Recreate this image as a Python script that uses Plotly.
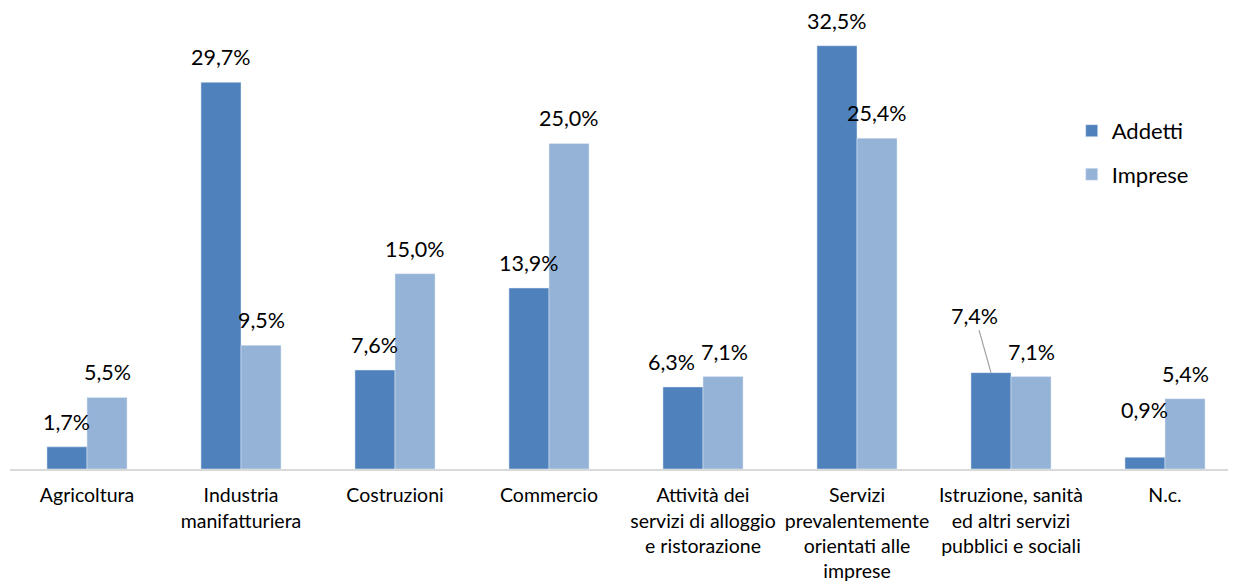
import plotly.graph_objects as go

categories = [
    "Agricoltura",
    "Industria<br>manifatturiera",
    "Costruzioni",
    "Commercio",
    "Attività dei<br>servizi di alloggio<br>e ristorazione",
    "Servizi<br>prevalentemente<br>orientati alle<br>imprese",
    "Istruzione, sanità<br>ed altri servizi<br>pubblici e sociali",
    "N.c.",
]
addetti = [1.7, 29.7, 7.6, 13.9, 6.3, 32.5, 7.4, 0.9]
imprese = [5.5, 9.5, 15.0, 25.0, 7.1, 25.4, 7.1, 5.4]

def fmt(v):
    return f"{v:.1f}".replace(".", ",") + "%"

c_add = "#4F81BD"
c_imp = "#95B3D7"
FONT = "Lato"
bargap = 0.48
bw = (1 - bargap) / 2

xs = list(range(len(categories)))
fig = go.Figure()
fig.add_trace(go.Bar(x=xs, y=addetti, name="Addetti", marker_color=c_add,
                     legendgroup="a", hoverinfo="skip"))
fig.add_trace(go.Bar(x=xs, y=imprese, name="Imprese", marker_color=c_imp,
                     legendgroup="b", hoverinfo="skip"))

annotations = []
special = {
    (4, 0): dict(yshift=25, xshift=-11),
    (4, 1): dict(xshift=1),
    (7, 0): dict(yshift=47),
}
for s, (vals, off) in enumerate([(addetti, -bw / 2), (imprese, bw / 2)]):
    for i, v in enumerate(vals):
        if (i, s) == (6, 0):
            annotations.append(dict(
                x=i + off, y=v, xref="x", yref="y", text=fmt(v),
                showarrow=True, arrowhead=0, arrowwidth=1.3, arrowcolor="#A6A6A6",
                ax=-16, ay=-57, standoff=0,
                font=dict(family=FONT, size=21.5, color="#000000"),
            ))
            continue
        d = dict(x=i + off, y=v, xref="x", yref="y", text=fmt(v), showarrow=False,
                 yanchor="middle", yshift=25,
                 font=dict(family=FONT, size=21.5, color="#000000"))
        d.update(special.get((i, s), {}))
        annotations.append(d)

fig.update_layout(
    width=1228, height=577,
    margin=dict(l=2, r=0, t=0, b=116),
    paper_bgcolor="white", plot_bgcolor="white",
    barmode="group", bargap=bargap, bargroupgap=0,
    font=dict(family=FONT, size=19.5, color="#000000"),
    annotations=annotations,
    showlegend=True,
    legend=dict(x=0.866, y=0.779, xanchor="left", yanchor="top",
                font=dict(family=FONT, size=22), traceorder="grouped",
                tracegroupgap=12, bgcolor="rgba(0,0,0,0)",
                itemwidth=30),
)
fig.update_xaxes(
    tickmode="array", tickvals=xs, ticktext=categories,
    range=[-0.5, 7.461], showline=True, linecolor="#D9D9D9", linewidth=2,
    ticks="outside", ticklen=8, tickcolor="rgba(0,0,0,0)",
    tickfont=dict(family=FONT, size=19.5), showgrid=False, zeroline=False,
    tickangle=0,
)
fig.update_yaxes(range=[0, 35.4], showgrid=False, zeroline=False,
                 showticklabels=False, showline=False)

fig.write_html("out.html")
